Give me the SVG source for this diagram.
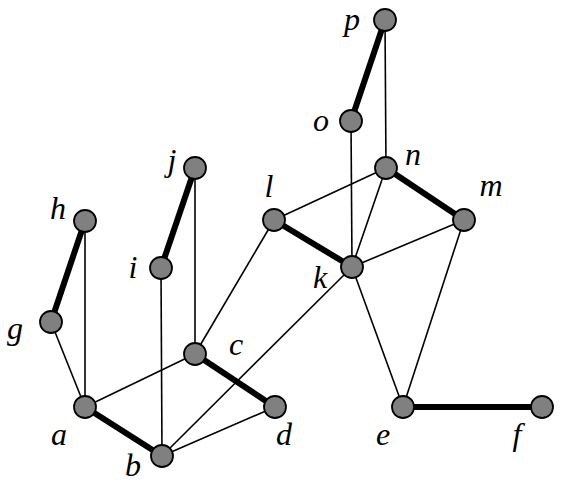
<svg xmlns="http://www.w3.org/2000/svg" width="561" height="485" viewBox="0 0 561 485">
<style>
.e{stroke:#000;stroke-width:1.6;fill:none}
.t{stroke:#000;stroke-width:6;fill:none}
.n circle{fill:#808080;stroke:#000;stroke-width:1.8}
text{font-family:"Liberation Serif","Times New Roman",serif;font-style:italic;font-size:32px;fill:#000;text-anchor:middle}
</style>
<rect width="561" height="485" fill="#fff"/>
<g id="connectors">
<line class="t" x1="385" y1="20" x2="351" y2="121"/>
<line class="t" x1="386" y1="168" x2="464" y2="220"/>
<line class="t" x1="274" y1="220" x2="352" y2="267"/>
<line class="t" x1="195" y1="168" x2="161" y2="268"/>
<line class="t" x1="85" y1="221" x2="51" y2="322"/>
<line class="t" x1="195" y1="354" x2="275" y2="407"/>
<line class="t" x1="85" y1="407" x2="162" y2="456"/>
<line class="t" x1="403" y1="407" x2="542" y2="407"/>
<line class="e" x1="385" y1="20" x2="386" y2="168"/>
<line class="e" x1="351" y1="121" x2="352" y2="267"/>
<line class="e" x1="274" y1="220" x2="386" y2="168"/>
<line class="e" x1="386" y1="168" x2="352" y2="267"/>
<line class="e" x1="352" y1="267" x2="464" y2="220"/>
<line class="e" x1="274" y1="220" x2="195" y2="354"/>
<line class="e" x1="85" y1="221" x2="85" y2="407"/>
<line class="e" x1="51" y1="322" x2="85" y2="407"/>
<line class="e" x1="195" y1="168" x2="195" y2="354"/>
<line class="e" x1="161" y1="268" x2="162" y2="456"/>
<line class="e" x1="85" y1="407" x2="195" y2="354"/>
<line class="e" x1="162" y1="456" x2="352" y2="267"/>
<line class="e" x1="162" y1="456" x2="275" y2="407"/>
<line class="e" x1="352" y1="267" x2="403" y2="407"/>
<line class="e" x1="464" y1="220" x2="403" y2="407"/>
</g>
<g id="p" class="n"><circle cx="385" cy="20" r="11"/><text x="352" y="30">p</text></g>
<g id="o" class="n"><circle cx="351" cy="121" r="11"/><text x="321" y="131">o</text></g>
<g id="n" class="n"><circle cx="386" cy="168" r="11"/><text x="413" y="165">n</text></g>
<g id="m" class="n"><circle cx="464" cy="220" r="11"/><text x="491" y="196">m</text></g>
<g id="l" class="n"><circle cx="274" cy="220" r="11"/><text x="269" y="197">l</text></g>
<g id="k" class="n"><circle cx="352" cy="267" r="11"/><text x="320" y="288">k</text></g>
<g id="j" class="n"><circle cx="195" cy="168" r="11"/><text x="172" y="171">j</text></g>
<g id="h" class="n"><circle cx="85" cy="221" r="11"/><text x="58" y="219">h</text></g>
<g id="i" class="n"><circle cx="161" cy="268" r="11"/><text x="133" y="278">i</text></g>
<g id="g" class="n"><circle cx="51" cy="322" r="11"/><text x="15" y="339">g</text></g>
<g id="c" class="n"><circle cx="195" cy="354" r="11"/><text x="236" y="355">c</text></g>
<g id="a" class="n"><circle cx="85" cy="407" r="11"/><text x="59" y="445">a</text></g>
<g id="b" class="n"><circle cx="162" cy="456" r="11"/><text x="133" y="476">b</text></g>
<g id="d" class="n"><circle cx="275" cy="407" r="11"/><text x="284" y="445">d</text></g>
<g id="e" class="n"><circle cx="403" cy="407" r="11"/><text x="383" y="445">e</text></g>
<g id="f" class="n"><circle cx="542" cy="407" r="11"/><text x="517" y="445">f</text></g>
</svg>
